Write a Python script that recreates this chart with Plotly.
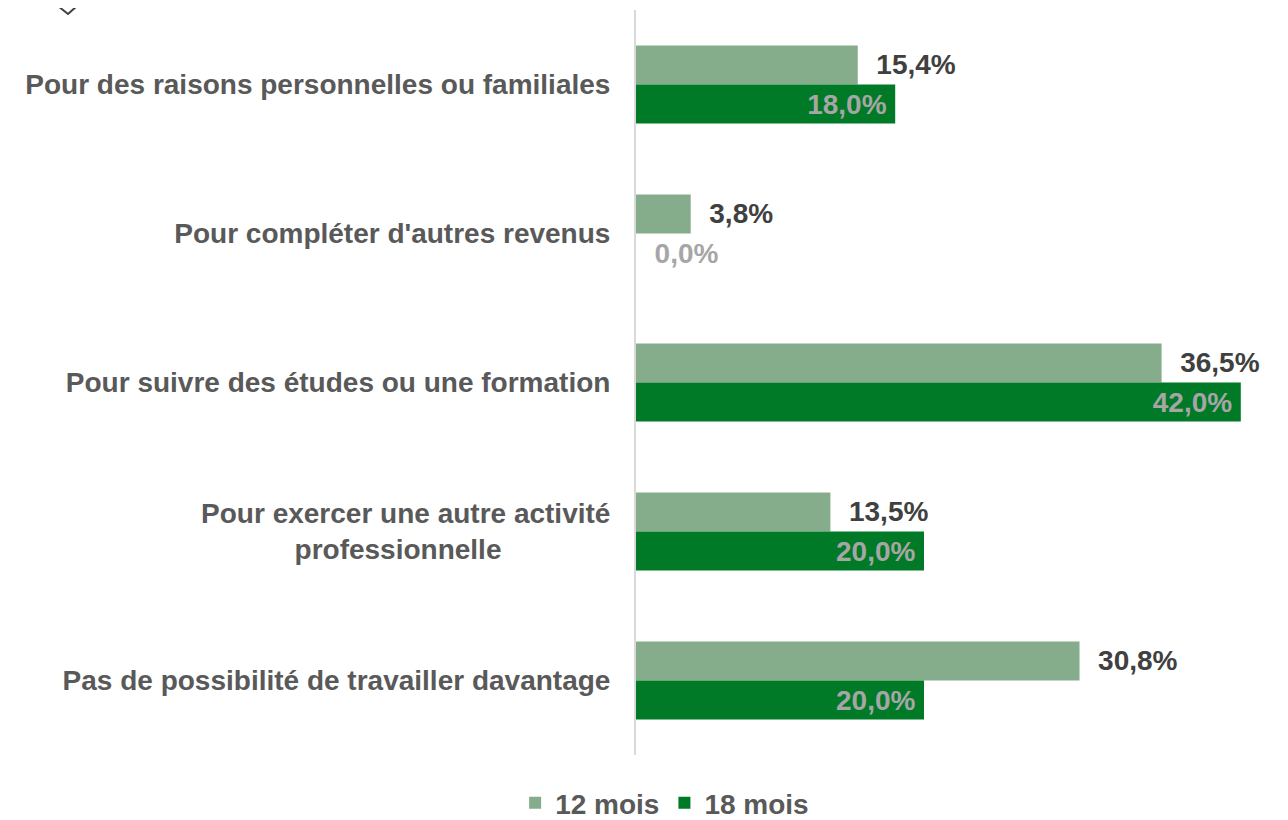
import plotly.graph_objects as go

categories = [
    "Pour des raisons personnelles ou familiales",
    "Pour compléter d'autres revenus",
    "Pour suivre des études ou une formation",
    "Pour exercer une autre activité<br>professionnelle" + "\u00a0" * 14,
    "Pas de possibilité de travailler davantage",
]
series_names = ["12 mois", "18 mois"]
values_12 = [15.4, 3.8, 36.5, 13.5, 30.8]
values_18 = [18.0, 0.0, 42.0, 20.0, 20.0]

color_12 = "#85AD8B"
color_18 = "#007A27"
font_family = "Liberation Sans"
FS = 28


def fmt(v):
    return f"{v:.1f}".replace(".", ",") + "%"


text_12 = ["\u00a0\u00a0" + fmt(v) for v in values_12]
text_18 = []
pos_18 = []
for v in values_18:
    if v > 0:
        text_18.append(fmt(v) + "\u2009")
        pos_18.append("inside")
    else:
        text_18.append("\u00a0\u00a0" + fmt(v))
        pos_18.append("outside")

fig = go.Figure()
fig.add_trace(go.Bar(
    y=categories, x=values_12, name=series_names[0], orientation="h",
    marker=dict(color=color_12, line=dict(width=0)),
    text=text_12, textposition="outside",
    textfont=dict(family=font_family, size=FS, color="#404040", weight="bold"),
    cliponaxis=False,
))
fig.add_trace(go.Bar(
    y=categories, x=values_18, name=series_names[1], orientation="h",
    marker=dict(color=color_18, line=dict(width=0)),
    text=text_18, textposition=pos_18, insidetextanchor="end",
    insidetextfont=dict(family=font_family, size=FS, color="#A6A6A6", weight="bold"),
    outsidetextfont=dict(family=font_family, size=FS, color="#A6A6A6", weight="bold"),
    cliponaxis=False,
))

# page has an 8px body margin, so the figure is 1280x812 placed at (8, 8)
W, H = 1280, 812
L, R, T, B = 628, 4, 2, 65
fig.update_layout(
    width=W, height=H,
    margin=dict(l=L, r=R, t=T, b=B, autoexpand=False),
    paper_bgcolor="white", plot_bgcolor="white",
    barmode="group", bargap=0.475, bargroupgap=0,
    font=dict(family=font_family, color="#595959"),
    xaxis=dict(range=[0, 45], visible=False, showgrid=False, zeroline=False),
    yaxis=dict(
        autorange="reversed", showgrid=False, zeroline=False,
        showline=True, linecolor="#D9D9D9", linewidth=2,
        ticks="", ticklabelstandoff=18, automargin=False,
        tickfont=dict(family=font_family, size=FS, color="#595959", weight="bold"),
    ),
    legend=dict(
        orientation="h", xref="container", yref="container",
        x=0.513, xanchor="center", y=0.021, yanchor="middle",
        font=dict(family=font_family, size=FS, color="#595959", weight="bold"),
        itemwidth=30, tracegroupgap=0,
    ),
    showlegend=True,
)

# partial diamond decoration at top-left (figure pixel -> paper)
pw = W - L - R
ph = H - T - B


def px(x):
    return (x - L) / pw


def py(y):
    return (H - B - y) / ph


fig.add_shape(
    type="path", xref="paper", yref="paper",
    path=f"M {px(40)},{py(-10)} L {px(60)},{py(6)} L {px(78)},{py(-10)}",
    line=dict(color="#404040", width=2),
)

fig.write_html("out.html")
